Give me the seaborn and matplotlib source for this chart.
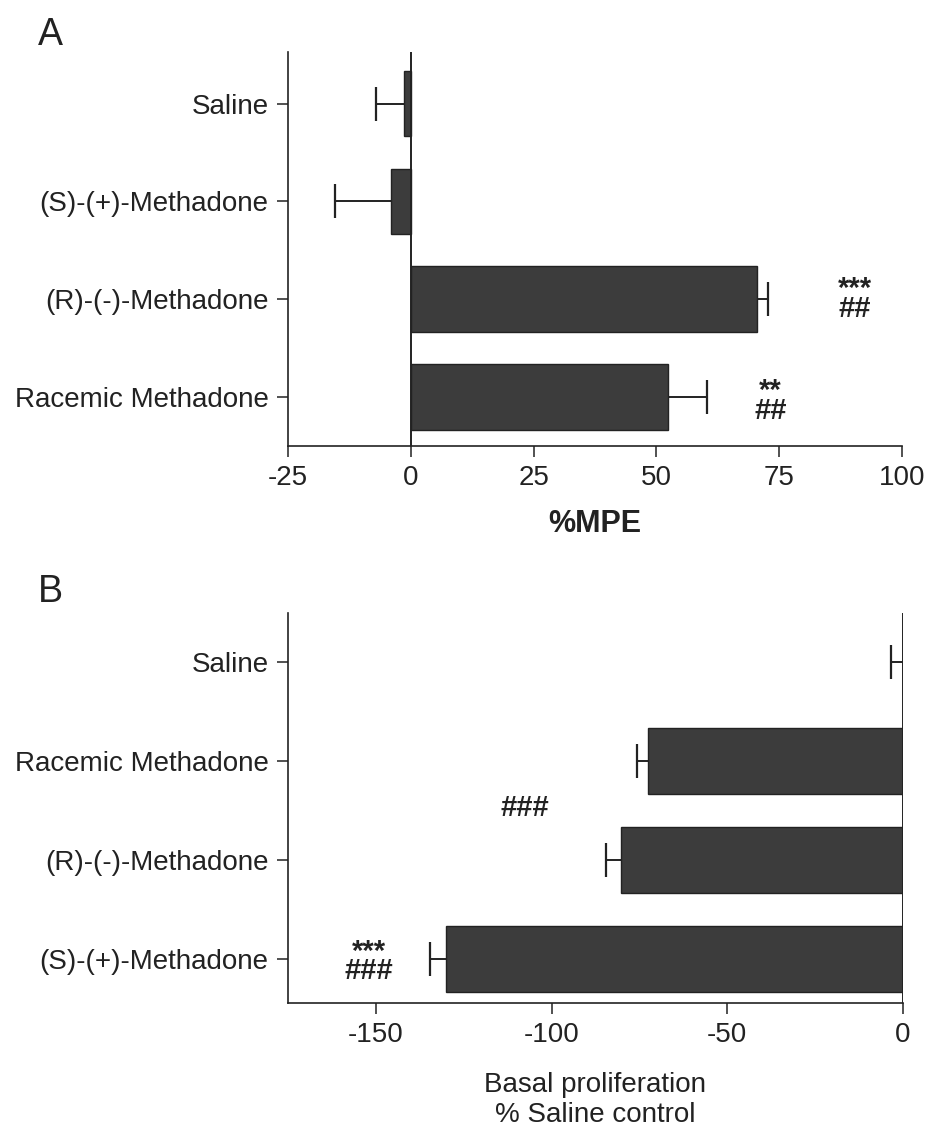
import numpy as np
import pandas as pd
import matplotlib
matplotlib.use("Agg")
import matplotlib.pyplot as plt
import seaborn as sns

# Panel A: antinociception (% MPE), mean and SEM per treatment
groups_a = ["Saline", "(S)-(+)-Methadone", "(R)-(-)-Methadone", "Racemic Methadone"]
mpe_mean = [-1.3, -4.1, 70.5, 52.3]
mpe_sem = [5.7, 11.4, 2.3, 7.9]
ticks_a = [-25, 0, 25, 50, 75, 100]

# Panel B: basal proliferation relative to saline control, mean and SEM
groups_b = ["Saline", "Racemic Methadone", "(R)-(-)-Methadone", "(S)-(+)-Methadone"]
prolif_mean = [0.0, -72.5, -80.3, -130.0]
prolif_sem = [3.4, 3.1, 4.1, 4.7]
ticks_b = [-150, -100, -50, 0]

# Significance marks: (text, x, y centre in category units)
marks_a = [("***\n##", 90.4, 2.0), ("**\n##", 73.2, 3.04)]
marks_b = [("###", -107.7, 1.475), ("***\n###", -152.0, 3.03)]

sns.set_style("ticks")
plt.rcParams["font.family"] = ["Liberation Sans", "DejaVu Sans"]

BAR = "#3c3c3c"
INK = "#222222"

fig = plt.figure(figsize=(9.29, 11.26), dpi=100)
ax_a = fig.add_axes([0.310, 0.604, 0.661, 0.350])
ax_b = fig.add_axes([0.310, 0.1092, 0.662, 0.3464])


def draw_panel(ax, groups, means, sems, ticks, xlim, ylim, marks):
    df = pd.DataFrame({"group": groups, "value": means})
    sns.barplot(data=df, x="value", y="group", order=groups, orient="h",
                color=BAR, saturation=1, width=0.67, errorbar=None,
                edgecolor=INK, linewidth=1.0, ax=ax)
    ypos = np.arange(len(groups))
    means = np.asarray(means)
    sems = np.asarray(sems)
    sign = np.where(means <= 0, -1.0, 1.0)
    ends = means + sign * sems
    # one-sided error bars pointing away from zero
    ax.hlines(ypos, means, ends, color=INK, linewidth=1.4, zorder=3)
    ax.plot(ends, ypos, linestyle="none", marker="|", markersize=25,
            markeredgewidth=1.6, color=INK, zorder=3)
    ax.axvline(0, color=INK, linewidth=1.4, zorder=4)
    ax.set_xlim(*xlim)
    ax.set_ylim(*ylim)
    ax.set_xticks(ticks)
    ax.set_xticklabels([str(t) for t in ticks])
    ax.set_ylabel("")
    for txt, x, y in marks:
        ax.text(x, y, txt, ha="center", va="center", fontsize=21,
                fontweight="bold", color=INK, linespacing=0.62,
                multialignment="center")
    for side in ("top", "right"):
        ax.spines[side].set_visible(False)
    for side in ("left", "bottom"):
        ax.spines[side].set_color(INK)
        ax.spines[side].set_linewidth(1.2)
    ax.tick_params(axis="y", length=8, width=1.1, pad=6, labelsize=20,
                   colors=INK, direction="out")
    ax.tick_params(axis="x", length=8, width=1.1, pad=6, labelsize=20,
                   colors=INK, direction="out")


draw_panel(ax_a, groups_a, mpe_mean, mpe_sem, ticks_a,
           (-25, 100), (3.5, -0.53), marks_a)
ax_a.set_xlabel("%MPE", fontsize=22, fontweight="bold", labelpad=13, color=INK)

draw_panel(ax_b, groups_b, prolif_mean, prolif_sem, ticks_b,
           (-175, 0), (3.45, -0.5), marks_b)
ax_b.set_xlabel("Basal proliferation\n% Saline control", fontsize=20,
                labelpad=17, color=INK, linespacing=1.2)

fig.text(0.054, 0.969, "A", fontsize=27, ha="center", va="center", color=INK)
fig.text(0.054, 0.474, "B", fontsize=27, ha="center", va="center", color=INK)

fig.savefig("out.png", dpi=100, facecolor="white")
